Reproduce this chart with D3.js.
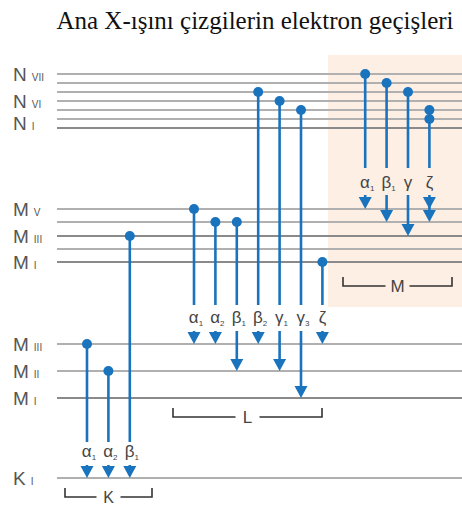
<!DOCTYPE html>
<html><head><meta charset="utf-8">
<script src="https://cdn.jsdelivr.net/npm/d3@7"></script>
<style>html,body{margin:0;padding:0;background:#fff;}svg{display:block;}</style>
</head><body>
<script>
// ---- data ----
const title = "Ana X-ışını çizgilerin elektron geçişleri";
// energy levels (arbitrary diagram units, K = 0)
const levelNames  = ["K1","L1","L2","L3","M1","M2","M3","M4","M5","N1","N2","N3","N4","N5","N6","N7"];
const levelValues = [0, 20, 26.75, 33.5, 54, 57.25, 60.5, 64, 67.25, 87.5, 89.75, 92, 94.25, 96.5, 98.75, 101];
const darkLevels  = ["L1","N1","M3","M1"];
// axis-side labels: [main letter, roman numeral, level]
const sideLabels = [
  ["N","VII","N7"],["N","VI","N4"],["N","I","N1b"],
  ["M","V","M5"],["M","III","M3"],["M","I","M1"],
  ["M","III","L3"],["M","II","L2"],["M","I","L1"],
  ["K","I","K1"]
];
// transitions: group, greek letter, subscript, column, from levels, to levels
const transGroup  = ["K","K","K","L","L","L","L","L","L","L","M","M","M","M"];
const transLetter = ["α","α","β","α","α","β","β","γ","γ","ζ","α","β","γ","ζ"];
const transSub    = ["1","2","1","1","2","1","2","1","3","","1","1","",""];
const transCol    = [0,1,2,5,6,7,8,9,10,11,13,14,15,16];
const transFrom   = [["L3"],["L2"],["M3"],["M5"],["M4"],["M4"],["N5"],["N4"],["N3"],["M1"],["N7"],["N6"],["N5"],["N3","N2"]];
const transTo     = [["K1"],["K1"],["K1"],["L3"],["L3"],["L2"],["L3"],["L2"],["L1"],["L3"],["M5"],["M4"],["M3"],["M5","M4"]];
const groups      = ["K","L","M"];

// ---- drawing ----
const W = 462, H = 506;
const blue = "#1a73bd";
const svg = d3.select("body").append("svg").attr("width", W).attr("height", H);

const y = d3.scaleLinear().domain([0, 101]).range([478, 74]);
const x = d3.scaleLinear().domain([0, 16]).range([87, 429.4]);
const lv = {};
levelNames.forEach((n,i)=> lv[n] = levelValues[i]);
lv["N1b"] = 88.75;

// peach background for M series
svg.append("rect")
  .attr("x", 328).attr("y", 55).attr("width", W-328).attr("height", 252)
  .attr("fill", "#fdefe4");

// title
svg.append("text").attr("x", 255).attr("y", 29)
  .attr("text-anchor","middle")
  .attr("font-family","'Liberation Serif','Times New Roman',serif")
  .attr("font-size", 25).attr("fill","#111").text(title);

// level lines
svg.append("g").selectAll("line").data(levelNames).join("line")
  .attr("x1", 57).attr("x2", W)
  .attr("y1", d=>y(lv[d])).attr("y2", d=>y(lv[d]))
  .attr("stroke", d=> darkLevels.includes(d) ? "#8a8a8a" : "#b0b0b0")
  .attr("stroke-width", d=> darkLevels.includes(d) ? 1.8 : 2.2);

// side labels
const sl = svg.append("g").attr("font-family","'Liberation Sans',Arial,sans-serif").attr("fill","#555");
sideLabels.forEach(([L,R,lev])=>{
  const t = sl.append("text").attr("x", 13).attr("y", y(lv[lev]) + 7);
  t.append("tspan").attr("font-size", 19).text(L);
  t.append("tspan").attr("font-size", 10).attr("dx", 5).text(R);
});

// transitions
const tg = svg.append("g");
const gap = {K: [-10, 13], L: [-13, 13], M: [-15, 12]};
function labelY(g){
  if (g==="K") return y(lv.K1) - 26;
  if (g==="L") return y(lv.L3) - 26;
  return y(lv.M5) - 26;
}
function head(g, cx, tipY){
  g.append("path")
    .attr("d", `M${cx-6.5},${tipY-12}L${cx+6.5},${tipY-12}L${cx},${tipY}Z`)
    .attr("fill", blue);
}
transGroup.forEach((grp,i)=>{
  const cx = x(transCol[i]);
  const froms = transFrom[i].map(f=>y(lv[f]));
  const tos = transTo[i].map(t=>y(lv[t]));
  const top = Math.min(...froms);
  const ly = labelY(grp);
  const brk = ly + gap[grp][0];
  const res = ly + gap[grp][1];
  const bottom = Math.max(...tos);
  tg.append("line").attr("x1",cx).attr("x2",cx).attr("y1",top).attr("y2",brk)
    .attr("stroke",blue).attr("stroke-width",2.6);
  if (bottom - 12 > res) {
    tg.append("line").attr("x1",cx).attr("x2",cx).attr("y1",res).attr("y2",bottom-10)
      .attr("stroke",blue).attr("stroke-width",2.6);
  }
  tos.forEach(t=>head(tg, cx, t));
  froms.forEach(f=> tg.append("circle").attr("cx",cx).attr("cy",f).attr("r",5).attr("fill",blue));
  const t = tg.append("text").attr("x", cx + (transSub[i] ? 2 : 0)).attr("y", ly + 5)
    .attr("text-anchor","middle")
    .attr("font-family","'Liberation Sans',Arial,sans-serif").attr("fill","#444");
  t.append("tspan").attr("font-size", 17).text(transLetter[i]);
  if (transSub[i]) t.append("tspan").attr("font-size", 8).attr("dy", 3).text(transSub[i]);
});

// group brackets
const bracket = {K: [65, 152, 497], L: [173, 322, 417], M: [343, 452, 286]};
const bg = svg.append("g");
groups.forEach(g=>{
  const [a,b,by] = bracket[g];
  const mid = (a+b)/2;
  bg.append("path")
    .attr("d", `M${a},${by-9}V${by}H${mid-12}M${mid+12},${by}H${b}V${by-9}`)
    .attr("fill","none").attr("stroke","#333").attr("stroke-width",1.6);
  bg.append("text").attr("x", mid).attr("y", by+6).attr("text-anchor","middle")
    .attr("font-family","'Liberation Sans',Arial,sans-serif").attr("font-size",g==="K"?16:17)
    .attr("fill","#444").text(g);
});
</script>
</body></html>
